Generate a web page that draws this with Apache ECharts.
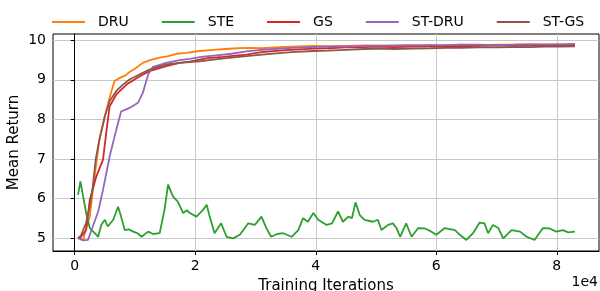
<!DOCTYPE html>
<html>
<head>
<meta charset="utf-8">
<script src="https://cdn.jsdelivr.net/npm/echarts@6/dist/echarts.min.js"></script>
<style>
  html, body { margin: 0; padding: 0; background: #fff; }
  #main { width: 600px; height: 291px; }
</style>
</head>
<body>
<div id="main"></div>
<script>
// 数据：[迭代次数, 平均回报]
const seriesNames = ['DRU', 'STE', 'GS', 'ST-DRU', 'ST-GS'];
const seriesColors = ['#ff7f0e', '#2ca02c', '#d62728', '#9467bd', '#8c564b'];

const xTicks = [0, 20000, 40000, 60000, 80000];
const yTicks = [5, 6, 7, 8, 9, 10];

const druData = [
  [550, 5.0], [900, 4.97], [1400, 4.95], [2000, 5.3], [2500, 5.54], [3000, 6.2],
  [3600, 6.9], [4100, 7.49], [5000, 8.08], [5700, 8.5], [6600, 8.97], [7500, 9.05],
  [8500, 9.12], [9100, 9.2], [10000, 9.28], [11300, 9.43], [12500, 9.5], [14100, 9.56],
  [15500, 9.6], [16900, 9.66], [18500, 9.68], [20700, 9.73], [23000, 9.76], [25000, 9.78],
  [27000, 9.8], [29000, 9.81], [31000, 9.8], [33000, 9.82], [36000, 9.84], [39600, 9.86],
  [42000, 9.85], [45000, 9.86], [48000, 9.87], [50000, 9.87], [53000, 9.86], [55000, 9.88],
  [58000, 9.87], [61700, 9.88], [64000, 9.89], [67000, 9.88], [70000, 9.89], [72000, 9.89],
  [75000, 9.9], [78000, 9.89], [80500, 9.9], [83000, 9.9]
];

const steData = [
  [550, 6.09], [950, 6.43], [1400, 6.05], [1900, 5.63], [2500, 5.25], [3300, 5.13],
  [3900, 5.03], [4400, 5.33], [5000, 5.46], [5500, 5.29], [6400, 5.46], [7200, 5.79],
  [7700, 5.54], [8300, 5.2], [9000, 5.22], [9700, 5.16], [10400, 5.12], [11100, 5.03],
  [12200, 5.16], [13000, 5.1], [14100, 5.12], [14900, 5.71], [15500, 6.35], [16300, 6.05],
  [17100, 5.92], [18000, 5.63], [18600, 5.7], [19100, 5.63], [20200, 5.54], [21300, 5.71],
  [21900, 5.84], [22400, 5.54], [23200, 5.12], [24300, 5.37], [25200, 5.03], [26300, 4.99],
  [27400, 5.08], [28800, 5.37], [29900, 5.33], [31000, 5.54], [31800, 5.25], [32600, 5.03],
  [33600, 5.1], [34600, 5.12], [36000, 5.03], [37100, 5.2], [37900, 5.5], [38700, 5.41],
  [39600, 5.63], [40400, 5.46], [41800, 5.33], [42700, 5.37], [43700, 5.67], [44500, 5.41],
  [45400, 5.54], [46000, 5.5], [46600, 5.9], [47300, 5.58], [48100, 5.46], [49500, 5.41],
  [50300, 5.46], [50900, 5.2], [52000, 5.33], [52800, 5.37], [53400, 5.25], [54000, 5.03],
  [55000, 5.37], [55900, 5.03], [57000, 5.25], [58100, 5.24], [59200, 5.16], [60000, 5.08],
  [61400, 5.25], [63100, 5.2], [63900, 5.08], [65000, 4.95], [66100, 5.12], [67200, 5.39],
  [68000, 5.37], [68600, 5.12], [69400, 5.33], [70300, 5.25], [71100, 4.99], [72500, 5.2],
  [73900, 5.16], [75000, 5.03], [76300, 4.95], [77700, 5.25], [78800, 5.24], [79900, 5.16],
  [81000, 5.2], [81900, 5.14], [83000, 5.16]
];

const gsData = [
  [550, 5.0], [1000, 5.02], [1900, 5.2], [2500, 5.96], [3600, 6.56], [4700, 6.98],
  [5300, 7.74], [5800, 8.33], [6900, 8.63], [8600, 8.88], [10800, 9.09], [12400, 9.22],
  [15200, 9.35], [17400, 9.43], [19100, 9.46], [22000, 9.55], [24600, 9.58], [28500, 9.64],
  [31000, 9.7], [35000, 9.75], [39600, 9.79], [42000, 9.8], [45000, 9.82], [48000, 9.83],
  [50000, 9.84], [53000, 9.83], [56000, 9.84], [59000, 9.85], [61700, 9.86], [64000, 9.85],
  [67000, 9.86], [70000, 9.87], [73000, 9.86], [75500, 9.87], [78000, 9.87], [80500, 9.88],
  [83000, 9.88]
];

const stDruData = [
  [550, 5.0], [1000, 4.97], [1400, 4.94], [2200, 4.95], [2800, 5.2], [3900, 5.67],
  [4700, 6.22], [5800, 7.06], [6900, 7.74], [7700, 8.2], [9100, 8.29], [10500, 8.42],
  [11300, 8.67], [12200, 9.14], [13000, 9.33], [15200, 9.43], [17400, 9.5], [19100, 9.53],
  [21000, 9.58], [23500, 9.62], [26000, 9.66], [28500, 9.72], [31000, 9.76], [33000, 9.78],
  [36000, 9.81], [39600, 9.83], [42000, 9.84], [45000, 9.84], [48000, 9.86], [50000, 9.86],
  [53000, 9.87], [56000, 9.87], [59000, 9.88], [61700, 9.88], [64000, 9.89], [67000, 9.89],
  [70000, 9.88], [73000, 9.89], [75500, 9.9], [78000, 9.9], [80500, 9.9], [83000, 9.91]
];

const stGsData = [
  [550, 5.0], [1000, 5.05], [1900, 5.38], [2500, 5.8], [3000, 6.3], [3500, 7.0],
  [4100, 7.49], [5000, 8.08], [5800, 8.46], [6900, 8.72], [8000, 8.88], [9100, 9.01],
  [11300, 9.18], [12400, 9.26], [15200, 9.39], [17400, 9.43], [20700, 9.47], [24000, 9.53],
  [28500, 9.6], [32000, 9.65], [36000, 9.7], [39600, 9.73], [42000, 9.74], [45000, 9.76],
  [48000, 9.78], [50700, 9.79], [53000, 9.78], [56000, 9.79], [59000, 9.8], [61700, 9.81],
  [64000, 9.81], [67000, 9.82], [70000, 9.82], [72800, 9.83], [75500, 9.83], [78000, 9.84],
  [80500, 9.84], [83000, 9.85]
];

const allData = [druData, steData, gsData, stDruData, stGsData];

const font = 'DejaVu Sans';
var myChart = echarts.init(document.getElementById('main'));

var option = {
  animation: false,
  color: seriesColors,
  legend: {
    data: seriesNames,
    top: 10,
    left: 47,
    width: 560,
    itemGap: 33,
    itemWidth: 33,
    itemHeight: 2,
    icon: 'rect',
    textStyle: { fontFamily: font, fontSize: 14, color: '#000', padding: [0, 0, 0, 8] }
  },
  grid: {
    left: 53, right: 1, top: 34, bottom: 40,
    outerBoundsMode: 'none',
    show: true, borderColor: '#000', borderWidth: 1
  },
  xAxis: {
    type: 'value',
    min: -3600,
    max: 87000,
    minInterval: 20000,
    maxInterval: 20000,
    name: 'Training Iterations',
    nameLocation: 'middle',
    nameGap: 28,
    nameMoveOverlap: false,
    nameTextStyle: { fontFamily: font, fontSize: 15, color: '#000' },
    axisLine: { show: true, lineStyle: { color: '#000', width: 1 } },
    axisTick: { show: true, customValues: xTicks, length: 4, lineStyle: { color: '#000' } },
    axisLabel: {
      customValues: xTicks,
      margin: 8,
      fontFamily: font, fontSize: 14, color: '#000',
      formatter: v => String(Math.round(v / 10000))
    },
    splitLine: { show: true, lineStyle: { color: '#c8c8c8', width: 1 } }
  },
  yAxis: {
    type: 'value',
    min: 4.67,
    max: 10.16,
    minInterval: 1,
    maxInterval: 1,
    name: 'Mean Return',
    nameLocation: 'middle',
    nameGap: 31,
    nameMoveOverlap: false,
    nameTextStyle: { fontFamily: font, fontSize: 15, color: '#000' },
    axisLine: { show: true, lineStyle: { color: '#000', width: 1 } },
    axisTick: { show: true, customValues: yTicks, length: 4, lineStyle: { color: '#000' } },
    axisLabel: {
      customValues: yTicks,
      margin: 7,
      fontFamily: font, fontSize: 14, color: '#000'
    },
    splitLine: { show: true, lineStyle: { color: '#c8c8c8', width: 1 } }
  },
  graphic: [{
    type: 'text',
    right: 2,
    top: 275,
    style: { text: '1e4', font: '14px "DejaVu Sans"', fill: '#000' }
  }],
  series: seriesNames.map((name, i) => ({
    name: name,
    type: 'line',
    data: allData[i],
    showSymbol: false,
    symbol: 'none',
    lineStyle: { width: 1.8, color: seriesColors[i] },
    itemStyle: { color: seriesColors[i] }
  }))
};

myChart.setOption(option);
</script>
</body>
</html>
